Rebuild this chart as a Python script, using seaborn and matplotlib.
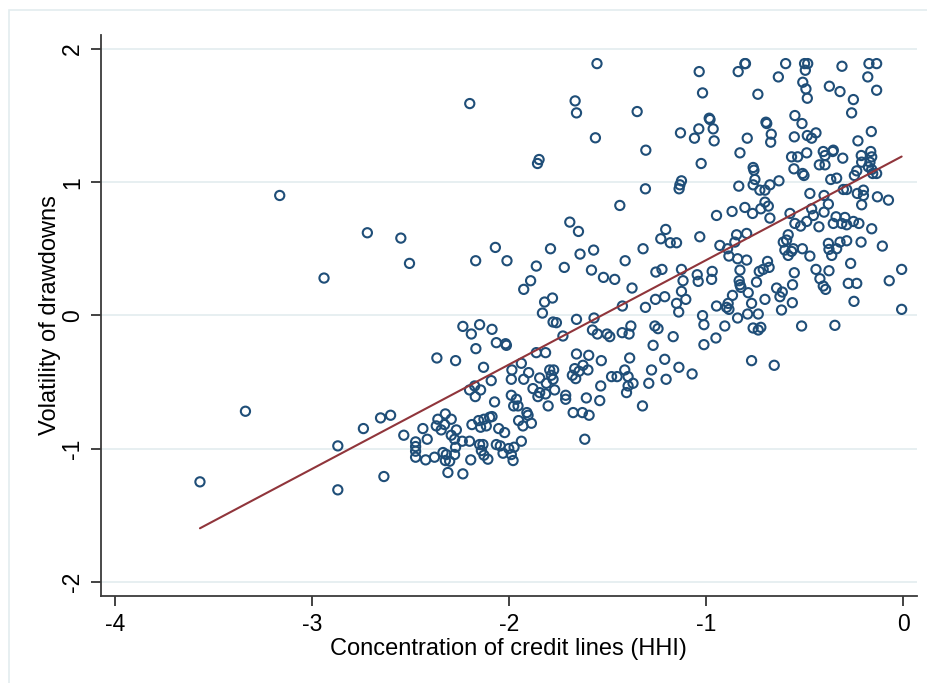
import matplotlib
matplotlib.use("Agg")
import matplotlib.pyplot as plt
import seaborn as sns
import pandas as pd
from matplotlib.patches import Rectangle

# ---- data (concentration of credit lines HHI, volatility of drawdowns) ----
hhi = [
    -2.20, -3.165, -2.72, -2.55, -2.506, -2.94, -2.17, -2.07,
    -3.339, -3.57, -2.87, -2.87,
    -2.011, -1.862, -1.891, -1.926,
    -1.554, -1.665, -1.658, -1.350, -1.562, -1.848, -1.856, -1.306, -1.130, -1.037,
    -1.059, -1.035, -1.018, -1.025, -1.308, -1.125, -1.133, -1.137,
    -0.837, -0.803, -0.800, -0.596, -0.50, -0.484, -0.496, -0.31, -0.173, -0.134,
    -0.179, -0.633, -0.509, -0.493, -0.486, -0.737, -0.374, -0.32, -0.252, -0.261,
    -0.134, -0.984, -0.980, -0.964, -0.959, -0.696, -0.692, -0.669, -0.672, -0.791,
    -0.828, -0.549, -0.513, -0.552, -0.486, -0.464, -0.442, -0.161, -0.229, -0.761,
    -0.757, -0.752, -0.761, -0.834, -0.727, -0.701, -0.676, -0.630, -0.566, -0.535,
    -0.489, -0.554, -0.51, -0.503, -0.405, -0.396, -0.354, -0.357, -0.306, -0.425,
    -0.396, -0.367, -0.337, -0.212, -0.164, -0.159, -0.21, -0.168, -0.176, -0.159,
    -0.154, -0.134, -0.235, -0.247, -0.473, -0.401, -0.303, -0.286, -0.232, -0.201,
    -0.201, -0.13, -0.074,
    -0.21, -0.701, -0.684, -0.722, -0.803, -0.764, -0.868, -0.947, -0.676, -0.574,
    -0.464, -0.455, -0.401, -0.379, -0.549, -0.52, -0.489, -0.427, -0.354, -0.34,
    -0.311, -0.295, -0.286, -0.252, -0.224, -0.159, -0.845, -0.794, -0.854, -0.93,
    -0.891, -0.884, -0.84, -0.794, -0.583, -0.591, -0.608, -0.60, -0.583, -0.557,
    -0.511, -0.473, -0.566, -0.379, -0.376, -0.337, -0.32, -0.286, -0.362, -0.213,
    -0.105, -0.266, -0.688, -0.68, -0.71, -0.73, -0.828, -0.969, -0.972, -0.552,
    -0.561, -0.442, -0.422, -0.376, -0.405, -0.393, -0.278, -0.235, -0.07, -0.007,
    -0.249, -0.007, -0.832, -0.828, -0.823, -0.744, -0.642, -0.613, -0.625, -0.786,
    -0.769, -0.866, -0.888, -0.896, -0.884, -0.947, -0.701, -0.562, -0.617, -0.84,
    -0.789, -0.735, -0.905, -0.761, -0.722, -0.735, -0.515, -0.346, -0.95,
    -0.769, -0.654,
    -1.438, -1.692, -1.648, -1.79, -1.64, -1.571, -1.72, -1.582, -1.521, -1.464,
    -1.411, -1.376, -1.32, -1.205, -1.23, -1.182, -1.15, -1.032, -1.255, -1.224,
    -1.125, -1.117, -1.125, -1.103, -1.045, -1.04, -1.21, -1.257, -1.308, -1.15,
    -1.139, -1.425, -1.78, -1.82, -1.831, -1.658, -1.569, -1.777, -1.76, -1.727,
    -1.577, -1.552, -1.503, -1.489, -1.426, -1.391, -1.382, -1.26, -1.244, -1.167,
    -1.018, -1.011,
    -1.862, -1.815, -1.658, -1.596, -1.532, -1.388, -1.269, -1.011, -1.21, -1.138,
    -1.071, -1.277, -1.291, -1.203, -1.413, -1.396, -1.48, -1.452, -1.371, -1.396,
    -1.404, -1.323, -1.535, -1.54, -1.608, -1.675, -1.628, -1.594, -1.616, -1.802,
    -1.713, -1.713, -1.667, -1.625, -1.6, -1.645, -1.679, -1.662, -1.794, -1.774,
    -1.786, -1.777, -1.845, -1.811, -1.769, -1.879, -1.845, -1.815, -1.854, -1.887,
    -2.74, -2.653, -2.602, -2.535, -2.636, -2.367, -2.272, -2.235, -2.15, -2.192,
    -2.087, -2.169, -2.065, -2.018, -2.014, -2.13, -2.091, -2.201, -2.175, -2.145,
    -2.172, -2.074, -1.986, -1.989, -1.938, -1.901, -1.926, -1.989, -1.963, -1.977,
    -1.955, -1.91, -1.904, -1.952, -1.93, -2.362, -2.324, -2.294, -2.328, -2.370,
    -2.345, -2.438, -2.416, -2.475, -2.475, -2.475, -2.475, -2.424, -2.379, -2.336,
    -2.319, -2.277, -2.324, -2.302, -2.294, -2.277, -2.268, -2.272, -2.238, -2.201,
    -2.311, -2.235, -2.195, -2.189, -2.155, -2.128, -2.099, -2.087, -2.145, -2.116,
    -2.053, -2.023, -2.15, -2.133, -2.141, -2.128, -2.108, -2.065, -2.045, -2.031,
    -2.002, -1.989, -1.975, -1.938, -1.98,
]
volatility = [
    1.59, 0.90, 0.62, 0.58, 0.39, 0.28, 0.41, 0.51,
    -0.72, -1.25, -0.98, -1.31,
    0.41, 0.37, 0.26, 0.195,
    1.89, 1.61, 1.52, 1.53, 1.333, 1.17, 1.14, 1.24, 1.37, 1.40,
    1.33, 1.83, 1.67, 1.14, 0.95, 1.01, 0.98, 0.95,
    1.83, 1.89, 1.89, 1.89, 1.89, 1.89, 1.84, 1.87, 1.89, 1.89,
    1.79, 1.79, 1.75, 1.70, 1.63, 1.66, 1.72, 1.68, 1.62, 1.52,
    1.69, 1.48, 1.47, 1.40, 1.31, 1.45, 1.44, 1.36, 1.30, 1.33,
    1.22, 1.50, 1.44, 1.34, 1.35, 1.33, 1.37, 1.38, 1.31, 1.11,
    1.09, 1.02, 0.98, 0.97, 0.94, 0.94, 0.98, 1.01, 1.19, 1.19,
    1.22, 1.10, 1.065, 1.05, 1.23, 1.20, 1.24, 1.23, 1.18, 1.13,
    1.13, 1.02, 1.03, 1.20, 1.23, 1.19, 1.15, 1.15, 1.115, 1.095,
    1.065, 1.065, 1.085, 1.05, 0.915, 0.90, 0.945, 0.945, 0.915, 0.94,
    0.90, 0.89, 0.865,
    0.83, 0.85, 0.82, 0.80, 0.81, 0.765, 0.78, 0.75, 0.73, 0.765,
    0.80, 0.75, 0.775, 0.835, 0.69, 0.67, 0.705, 0.665, 0.69, 0.74,
    0.69, 0.735, 0.68, 0.705, 0.69, 0.65, 0.605, 0.615, 0.55, 0.525,
    0.50, 0.445, 0.425, 0.415, 0.605, 0.565, 0.55, 0.49, 0.45, 0.50,
    0.50, 0.445, 0.48, 0.54, 0.495, 0.50, 0.55, 0.56, 0.45, 0.55,
    0.52, 0.39, 0.405, 0.36, 0.345, 0.33, 0.34, 0.33, 0.27, 0.32,
    0.23, 0.345, 0.275, 0.335, 0.22, 0.195, 0.24, 0.24, 0.26, 0.345,
    0.105, 0.045, 0.26, 0.23, 0.21, 0.25, 0.205, 0.175, 0.14, 0.17,
    0.09, 0.15, 0.09, 0.06, 0.045, 0.07, 0.12, 0.095, 0.04, -0.02,
    0.01, 0.01, -0.08, -0.095, -0.09, -0.11, -0.08, -0.075, -0.17,
    -0.34, -0.375,
    0.825, 0.70, 0.63, 0.50, 0.46, 0.49, 0.36, 0.34, 0.285, 0.27,
    0.41, 0.205, 0.50, 0.645, 0.575, 0.545, 0.545, 0.59, 0.325, 0.345,
    0.345, 0.26, 0.18, 0.12, 0.305, 0.255, 0.14, 0.12, 0.06, 0.09,
    0.025, 0.07, 0.13, 0.10, 0.017, -0.03, -0.02, -0.05, -0.055, -0.155,
    -0.11, -0.14, -0.14, -0.16, -0.13, -0.14, -0.08, -0.08, -0.10, -0.16,
    -0.002, -0.07,
    -0.28, -0.28, -0.29, -0.30, -0.34, -0.32, -0.225, -0.22, -0.33, -0.39,
    -0.44, -0.41, -0.51, -0.48, -0.41, -0.46, -0.46, -0.46, -0.51, -0.53,
    -0.58, -0.68, -0.53, -0.64, -0.62, -0.73, -0.73, -0.75, -0.93, -0.68,
    -0.60, -0.63, -0.40, -0.375, -0.41, -0.42, -0.45, -0.475, -0.41, -0.41,
    -0.45, -0.48, -0.47, -0.51, -0.56, -0.55, -0.58, -0.59, -0.61, -0.81,
    -0.85, -0.77, -0.75, -0.90, -1.21, -0.32, -0.34, -0.083, -0.07, -0.14,
    -0.105, -0.25, -0.205, -0.213, -0.225, -0.39, -0.49, -0.56, -0.53, -0.56,
    -0.61, -0.65, -0.41, -0.48, -0.36, -0.43, -0.48, -0.60, -0.63, -0.68,
    -0.68, -0.73, -0.75, -0.79, -0.83, -0.78, -0.74, -0.78, -0.82, -0.83,
    -0.86, -0.85, -0.93, -0.95, -0.985, -1.02, -1.065, -1.085, -1.065, -1.03,
    -1.045, -1.045, -1.09, -1.095, -0.90, -0.93, -0.86, -0.99, -0.945, -0.945,
    -1.18, -1.19, -1.085, -0.82, -0.79, -0.78, -0.765, -0.76, -0.84, -0.83,
    -0.85, -0.88, -0.97, -0.97, -1.015, -1.05, -1.08, -0.97, -0.98, -1.035,
    -1.00, -1.045, -0.99, -0.945, -1.09,
]
x_ticks = [-4, -3, -2, -1, 0]
y_ticks = [-2, -1, 0, 1, 2]
x_label = "Concentration of credit lines (HHI)"
y_label = "Volatility of drawdowns"

df = pd.DataFrame({"hhi": hhi, "vol": volatility})

MARKER = "#1f4e78"
LINE = "#90353b"
GRID = "#e7eff1"

sns.set_theme(style="white")
plt.rcParams["font.family"] = ["Liberation Sans", "DejaVu Sans"]

W, H = 928, 683
fig = plt.figure(figsize=(W / 100, H / 100), dpi=100)
fig.patch.set_facecolor("white")
left_px, right_px, top_px, bottom_px = 100.7, 917.0, 34.7, 596.0
ax = fig.add_axes([left_px / W, 1 - bottom_px / H,
                   (right_px - left_px) / W, (bottom_px - top_px) / H])

sns.scatterplot(data=df, x="hhi", y="vol", ax=ax, marker="o", s=44,
                facecolor="none", edgecolor=MARKER, linewidth=1.5, zorder=3,
                legend=False)
sns.regplot(data=df, x="hhi", y="vol", ax=ax, scatter=False, ci=None,
            line_kws=dict(color=LINE, lw=1.5, zorder=4))

ax.set_xlim(-4.074, 0.071)
ax.set_ylim(-2.107, 2.107)
ax.set_xticks(x_ticks)
ax.set_yticks(y_ticks)
ax.set_xticklabels([str(t) for t in x_ticks])
ax.set_yticklabels([str(t) for t in y_ticks], rotation=90, va="center")

for yv in y_ticks:
    ax.axhline(yv, color=GRID, lw=1.4, zorder=1)
ax.grid(False)

for s in ["top", "right"]:
    ax.spines[s].set_visible(False)
for s in ["left", "bottom"]:
    ax.spines[s].set_color("#3a3a3a")
    ax.spines[s].set_linewidth(1.3)

ax.tick_params(axis="both", which="major", direction="out", length=7,
               width=1.2, color="#222222", labelsize=16.5, labelcolor="black",
               pad=5, left=True, bottom=True)
ax.set_xlabel(x_label, fontsize=17, color="black", labelpad=2)
ax.set_ylabel(y_label, fontsize=17, color="black")
ax.yaxis.set_label_coords((61 - left_px) / (right_px - left_px), 0.5)

# light outer graph-region frame (visible on left and top)
fig.patches.append(Rectangle((9 / W, -0.2), 1.2, 1 - 10 / H + 0.2,
                             transform=fig.transFigure, fill=False,
                             edgecolor="#e3ecef", lw=1.2, zorder=0))

fig.savefig("out.png", dpi=100, facecolor="white")
